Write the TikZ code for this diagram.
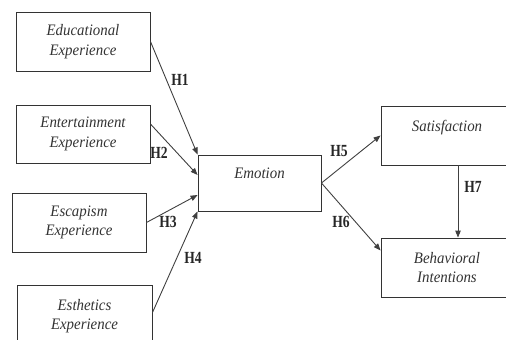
\documentclass[tikz,border=0pt]{standalone}
\usepackage{fontspec}
\setmainfont{Liberation Serif}
\usetikzlibrary{arrows.meta,calc}
\newcommand\sqz[1]{\scalebox{0.93}[1]{#1}}
\newcommand\hq[1]{\scalebox{0.8}[1]{#1}}
\begin{document}
\begin{tikzpicture}[x=1pt,y=-1pt,
 box/.style={draw=black!80, line width=0.9pt, inner sep=0pt, font=\fontsize{16}{19.5}\selectfont\itshape, align=center, text=black!80},
 link/.style={draw=black!75, line width=0.9pt, -{Triangle[length=7pt,width=5.5pt]}},
 hyp/.style={font=\fontsize{17}{17}\selectfont\bfseries, text=black!85, inner sep=0pt}]
\path[use as bounding box] (0,0) rectangle (506,340);
\clip (0,0) rectangle (506,340);
\node[box, minimum width=134pt, minimum height=59pt] (edu) at (83,41.5) {\sqz{Educational}\\\sqz{Experience}};
\node[box, minimum width=134pt, minimum height=58pt] (ent) at (83,134) {\sqz{Entertainment}\\\sqz{Experience}};
\node[box, minimum width=134pt, minimum height=59pt] (esc) at (79,222.5) {\sqz{Escapism}\\\sqz{Experience}};
\node[box, minimum width=135pt, minimum height=62pt] (est) at (84.5,316) {\sqz{Esthetics}\\\sqz{Experience}};
\node[box, minimum width=123pt, minimum height=56pt] (emo) at (259.5,183) {\sqz{Emotion}\\\mbox{}};
\node[box, minimum width=132pt, minimum height=59pt] (sat) at (447,135.5) {\sqz{Satisfaction}\\\mbox{}};
\node[box, minimum width=132pt, minimum height=59pt] (beh) at (447,267.5) {\sqz{Behavioral}\\\sqz{Intentions}};
\draw[link] (edu.east) -- (emo.north west);
\draw[link] ($(ent.east)+(0,-10)$) -- ($(emo.west)+(0,-8)$);
\draw[link] (esc.east) -- ($(emo.west)+(0,12)$);
\draw[link] ($(est.north east)+(0,28)$) -- (emo.south west);
\draw[link] (emo.east) -- (sat.west);
\draw[link] (emo.east) -- ($(beh.west)+(0,-17)$);
\draw[link] ($(sat.south)+(11,0)$) -- ($(beh.north)+(11,0)$);
\node[hyp] (h1) at (180,80) {\hq{H1}};
\node[hyp] (h2) at (159,153) {\hq{H2}};
\node[hyp] (h3) at (168,222) {\hq{H3}};
\node[hyp] (h4) at (193,258) {\hq{H4}};
\node[hyp] (h5) at (339,151) {\hq{H5}};
\node[hyp] (h6) at (341,222) {\hq{H6}};
\node[hyp] (h7) at (473,187) {\hq{H7}};
\end{tikzpicture}
\end{document}
